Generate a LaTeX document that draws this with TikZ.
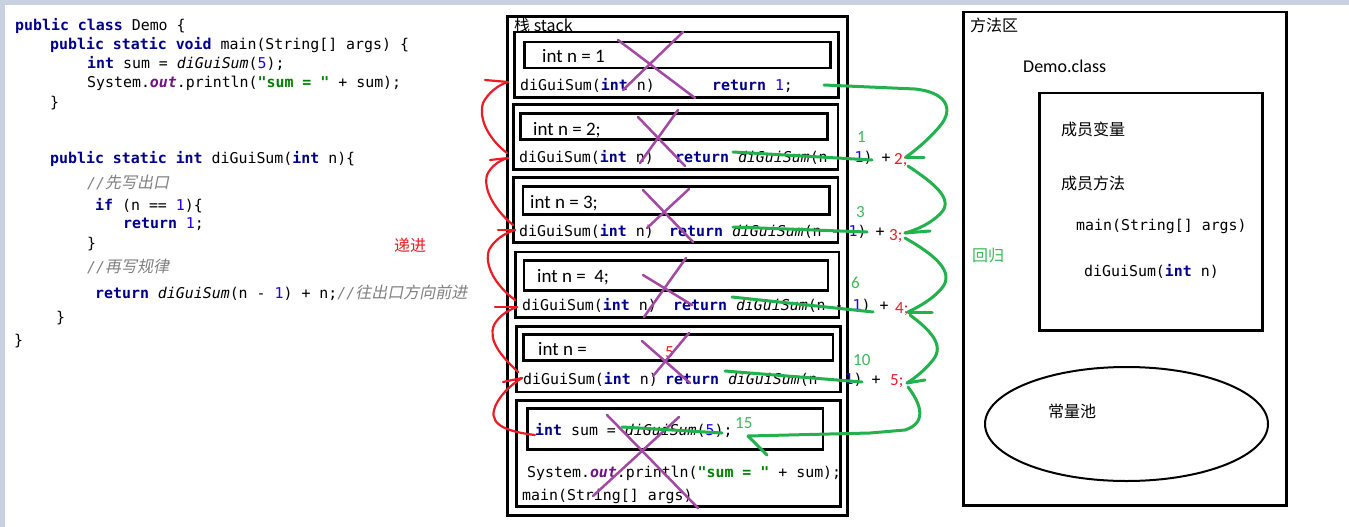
\documentclass[tikz,border=0pt]{standalone}
\usepackage{fontspec}
\setmainfont{Carlito}
\newfontfamily\monofam{DejaVu Sans Mono}
\newfontfamily\cjkfam{Noto Sans CJK SC}
\newfontfamily\cjkslant{Noto Sans CJK SC}[FakeSlant=0.2]
\newfontfamily\calfam{Carlito}
\newcommand\cfont{\monofam\fontsize{14.9}{18}\selectfont}
\definecolor{bgc}{RGB}{201,209,224}
\definecolor{ckwc}{RGB}{0,0,140}
\definecolor{cnumc}{RGB}{30,0,255}
\definecolor{cfldc}{RGB}{110,20,130}
\definecolor{cstrc}{RGB}{0,128,0}
\definecolor{ccmtc}{RGB}{128,128,128}
\definecolor{pgreen}{RGB}{34,177,76}
\definecolor{lgreen}{RGB}{60,185,90}
\definecolor{pred}{RGB}{237,28,36}
\definecolor{ppurple}{RGB}{163,73,164}
\newcommand\ckw[1]{{\bfseries\color{ckwc}#1}}
\newcommand\cnum[1]{{\color{cnumc}#1}}
\newcommand\cmth[1]{{\itshape #1}}
\newcommand\cfld[1]{{\bfseries\itshape\color{cfldc}#1}}
\newcommand\cstr[1]{{\bfseries\color{cstrc}#1}}
\newcommand\ccmt[1]{{\color{ccmtc}\itshape //{\cjkslant\fontsize{16}{19}\selectfont #1}}}
\tikzset{
  stackbox/.style={draw=black, line width=2.8pt},
  code/.style={anchor=base west, inner sep=0pt, font=\cfont},
  sans/.style={anchor=base west, inner sep=0pt, font=\calfam\fontsize{19}{22}\selectfont},
  sansnum/.style={anchor=base west, inner sep=0pt, font=\calfam\fontsize{17}{20}\selectfont},
  cjk/.style={anchor=base west, inner sep=0pt, font=\cjkfam\fontsize{16}{19}\selectfont},
  grn/.style={draw=pgreen, line width=3pt, line cap=round, line join=round},
  rd/.style={draw=pred, line width=2.2pt, line cap=round, line join=round},
  xmark/.style={draw=ppurple, line width=2.5pt, line cap=round},
}
\begin{document}
\begin{tikzpicture}[x=1pt,y=-1pt]
\useasboundingbox (0,0) rectangle (1349,527);
\fill[bgc] (0,0) rectangle (1349,527);
\fill[white] (5,5) rectangle (1349,527);

% ---------- source code ----------
\node[code] (c1) at (15,31) {\ckw{public class} Demo \{};
\node[code] (c2) at (50,50) {\ckw{public static void} main(String[] args) \{};
\node[code] (c3) at (87,69) {\ckw{int} sum = \cmth{diGuiSum}(\cnum{5});};
\node[code] (c4) at (87,88) {System.\cfld{out}.println(\cstr{"sum = "} + sum);};
\node[code] (c5) at (50,107) {\}};
\node[code] (c6) at (50,163) {\ckw{public static int} diGuiSum(\ckw{int} n)\{};
\node[code] (c7) at (87,188) {\ccmt{先写出口}};
\node[code] (c8) at (95,210) {\ckw{if} (n == \cnum{1})\{};
\node[code] (c9) at (123,228) {\ckw{return} \cnum{1};};
\node[code] (c10) at (87,248) {\}};
\node[code] (c11) at (87,272) {\ccmt{再写规律}};
\node[code] (c12) at (95,298) {\ckw{return} \cmth{diGuiSum}(n - \cnum{1}) + n;\ccmt{往出口方向前进}};
\node[code] (c13) at (56,322) {\}};
\node[code] (c14) at (14,345) {\}};
\node[cjk, text=pred] (dj) at (394,251) {递进};

% ---------- stack ----------
\draw[stackbox] (507.5,16.5) rectangle (847.5,515.5);
\node[cjk] (stk) at (514,32) {栈 stack};
% frame 1
\draw[stackbox] (514.5,32) rectangle (838.5,97.5);
\draw[stackbox] (524.5,42) rectangle (830.5,68);
\node[sans] (n1) at (542,63) {int n = 1};
\node[code] (d1) at (520,90) {diGuiSum(\ckw{int} n)};
\node[code] (r1) at (712,90) {\ckw{return} \cnum{1};};
% frame 2
\draw[stackbox] (513.5,104.5) rectangle (838,169.5);
\draw[stackbox] (520.5,113.5) rectangle (827.5,139.5);
\node[sans] (n2) at (533,135) {int n = 2;};
\node[code] (d2) at (519,162) {diGuiSum(\ckw{int} n)};
\node[code] (r2) at (675,162) {\ckw{return} \cmth{diGuiSum}(n - \cnum{1}) +};
\node[sansnum, text=pred] (v2) at (894,164) {2;};
% frame 3
\draw[stackbox] (513.5,177.5) rectangle (838,242.5);
\draw[stackbox] (523,186.5) rectangle (829.5,214.5);
\node[sans] (n3) at (530,208) {int n = 3;};
\node[code] (d3) at (519,236) {diGuiSum(\ckw{int} n)};
\node[code] (r3) at (669,236) {\ckw{return} \cmth{diGuiSum}(n - \cnum{1}) +};
\node[sansnum, text=pred] (v3) at (889,240) {3;};
% frame 4
\draw[stackbox] (515.5,252) rectangle (839,317.5);
\draw[stackbox] (524,260.5) rectangle (828,290.5);
\node[sans] (n4) at (537,282) {int n =\ \ 4;};
\node[code] (d4) at (522,310) {diGuiSum(\ckw{int} n)};
\node[code] (r4) at (673,310) {\ckw{return} \cmth{diGuiSum}(n - \cnum{1}) +};
\node[sansnum, text=pred] (v4) at (895,313) {4;};
% frame 5
\draw[stackbox] (516.5,326.5) rectangle (840.5,392);
\draw[stackbox] (523.5,334.5) rectangle (833,360.5);
\node[sans] (n5) at (538,355) {int n =};
\node[sansnum, text=pred] (five) at (665,357) {5};
\node[code] (d5) at (523,384) {diGuiSum(\ckw{int} n)};
\node[code] (r5) at (665,384) {\ckw{return} \cmth{diGuiSum}(n - \cnum{1}) +};
\node[sansnum, text=pred] (v5) at (890,385) {5;};
% main frame
\draw[stackbox] (516.5,400.5) rectangle (840.5,506.5);
\draw[stackbox] (527.5,408.5) rectangle (823,449.5);
\node[code] (s1) at (535,435) {\ckw{int} sum = \cmth{diGuiSum}(\cnum{5});};
\node[code] (s2) at (527,477) {System.\cfld{out}.println(\cstr{"sum = "} + sum);};
\node[code] (s3) at (522,500) {main(String[] args)};

% green partial results
\node[sansnum, text=lgreen] (g1) at (857,142) {1};
\node[sansnum, text=lgreen] (g3) at (856,217) {3};
\node[sansnum, text=lgreen] (g6) at (851,288) {6};
\node[sansnum, text=lgreen] (g10) at (853,365) {10};
\node[sansnum, text=lgreen] (g15) at (735,428) {15};

% ---------- method area ----------
\draw[stackbox] (963.5,12) rectangle (1286.5,505.5);
\draw[stackbox] (1039.5,93) rectangle (1262.5,330.5);
\draw[line width=2pt] (1126.5,424) ellipse [x radius=141.5pt, y radius=57pt];
\node[cjk] (ff) at (970,32) {方法区};
\node[sans, font=\calfam\fontsize{18}{21}\selectfont] (demo) at (1023,73) {Demo.class};
\node[cjk] (cy) at (1061,135) {成员变量};
\node[cjk] (cf) at (1061,189) {成员方法};
\node[code] (mm) at (1076,230) {main(String[] args)};
\node[code] (md) at (1084,276) {diGuiSum(\ckw{int} n)};
\node[cjk] (cl) at (1048,417) {常量池};
\node[cjk, text=lgreen] (hg) at (972,261) {回归};

% ---------- purple crosses ----------
\draw[xmark] (618,40) -- (695,98);  \draw[xmark] (683,32) -- (623,90);
\draw[xmark] (638,117) -- (685,166); \draw[xmark] (678,110) -- (640,163);
\draw[xmark] (643,190) -- (693,242); \draw[xmark] (689,189) -- (647,228);
\draw[xmark] (643,275) -- (692,305); \draw[xmark] (686,258) -- (644,317);
\draw[xmark] (642,341) -- (690,383); \draw[xmark] (689,333) -- (653,376);
\draw[xmark] (607,415) -- (698,508); \draw[xmark] (679,417) -- (593,496);

% ---------- green strike lines and return curves ----------
\draw[grn] (733,152) -- (872,160);
\draw[grn] (733,227) -- (867,232);
\draw[grn] (732,297) -- (873,312);
\draw[grn] (725,371) -- (862,382);
\draw[grn] (622,427) -- (722,433);
\draw[grn] (824,85) -- (915,89) .. controls (945,92) and (955,108) .. (940,126) .. controls (929,139) and (916,150) .. (906,157);
\draw[grn] (906,157) -- (924,157);
\draw[grn] (908,166) .. controls (935,184) and (955,200) .. (940,214) .. controls (930,224) and (916,230) .. (905,233);
\draw[grn] (905,233) -- (930,231);
\draw[grn] (905,238) .. controls (935,255) and (955,272) .. (942,288) .. controls (932,300) and (918,307) .. (908,312);
\draw[grn] (908,312) -- (932,312);
\draw[grn] (910,315) .. controls (930,330) and (945,345) .. (933,360) .. controls (925,370) and (915,378) .. (907,383);
\draw[grn] (907,383) -- (925,380);
\draw[grn] (908,387) .. controls (918,400) and (930,422) .. (905,430) -- (870,433) -- (748,436);
\draw[grn] (748,436) -- (767,455);

% ---------- red recursion curves ----------
\draw[rd] (535,435) .. controls (510,432) and (490,426) .. (494,410) .. controls (497,398) and (510,385) .. (522,378);
\draw[rd] (503,382) -- (522,378);
\draw[rd] (518,372) .. controls (500,355) and (488,340) .. (494,325) .. controls (499,316) and (508,310) .. (517,307);
\draw[rd] (495,307) -- (517,307);
\draw[rd] (515,300) .. controls (495,285) and (484,265) .. (489,250) .. controls (494,240) and (505,233) .. (515,230);
\draw[rd] (498,230) -- (515,230);
\draw[rd] (513,225) .. controls (495,210) and (483,190) .. (487,175) .. controls (491,166) and (500,160) .. (508,158);
\draw[rd] (490,160) -- (508,158);
\draw[rd] (507,153) .. controls (490,140) and (478,120) .. (483,103) .. controls (488,93) and (498,85) .. (508,82);
\draw[rd] (485,80) -- (508,82);
\end{tikzpicture}
\end{document}
